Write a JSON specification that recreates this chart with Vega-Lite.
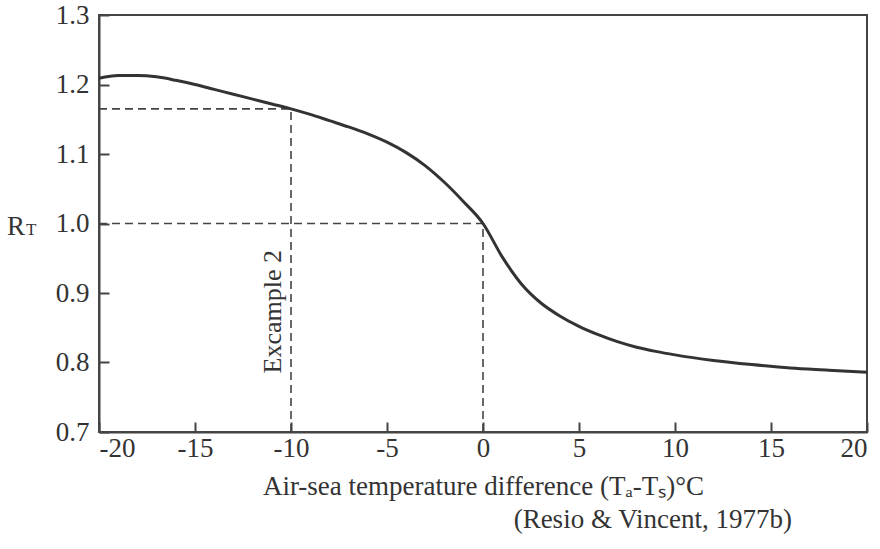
{
  "$schema": "https://vega.github.io/schema/vega-lite/v6.json",
  "autosize": "none",
  "width": 768,
  "height": 417,
  "padding": {"left": 99, "top": 15, "right": 13, "bottom": 117},
  "background": "white",
  "config": {
    "view": {"stroke": "#444", "strokeWidth": 2},
    "font": "Liberation Serif",
    "axis": {
      "labelFont": "Liberation Serif",
      "labelFontSize": 27,
      "labelColor": "#333",
      "titleFont": "Liberation Serif",
      "titleColor": "#333",
      "domainColor": "#444",
      "domainWidth": 2,
      "tickColor": "#444",
      "tickWidth": 2,
      "tickSize": -10,
      "grid": false
    }
  },
  "datasets": {
    "curve": [
      {"x": -20, "r": 1.209}, {"x": -19, "r": 1.213}, {"x": -18, "r": 1.213},
      {"x": -17, "r": 1.211}, {"x": -16, "r": 1.206}, {"x": -15, "r": 1.200},
      {"x": -14, "r": 1.193}, {"x": -13, "r": 1.186}, {"x": -12, "r": 1.179},
      {"x": -11, "r": 1.172}, {"x": -10, "r": 1.165}, {"x": -9, "r": 1.157},
      {"x": -8, "r": 1.148}, {"x": -7, "r": 1.139}, {"x": -6, "r": 1.129},
      {"x": -5, "r": 1.117}, {"x": -4, "r": 1.102}, {"x": -3, "r": 1.083},
      {"x": -2, "r": 1.059}, {"x": -1, "r": 1.031}, {"x": 0, "r": 1.0},
      {"x": 1, "r": 0.952}, {"x": 2, "r": 0.913}, {"x": 3, "r": 0.886},
      {"x": 4, "r": 0.867}, {"x": 5, "r": 0.852}, {"x": 6, "r": 0.840},
      {"x": 7, "r": 0.830}, {"x": 8, "r": 0.822}, {"x": 9, "r": 0.816},
      {"x": 10, "r": 0.811}, {"x": 12, "r": 0.803}, {"x": 14, "r": 0.797},
      {"x": 16, "r": 0.792}, {"x": 18, "r": 0.789}, {"x": 20, "r": 0.786}
    ],
    "guides": [
      {"x": -20, "x2": -10, "r": 1.165, "r2": 1.165},
      {"x": -10, "x2": -10, "r": 0.7, "r2": 1.165},
      {"x": -20, "x2": 0, "r": 1.0, "r2": 1.0},
      {"x": 0, "x2": 0, "r": 0.7, "r2": 1.0}
    ]
  },
  "layer": [
    {
      "data": {"name": "guides"},
      "mark": {"type": "rule", "strokeDash": [8, 5], "strokeWidth": 1.6, "color": "#444"},
      "encoding": {
        "x": {"field": "x", "type": "quantitative", "scale": {"domain": [-20, 20], "nice": false},
          "axis": {"values": [-20, -15, -10, -5, 0, 5, 10, 15, 20], "labelPadding": 13,
            "labelExpr": "replace(datum.label, '−', '-')",
            "title": "Air-sea temperature difference (Tₐ-Tₛ)°C", "titleFontSize": 27,
            "titleFontWeight": "normal", "titlePadding": 12}},
        "x2": {"field": "x2"},
        "y": {"field": "r", "type": "quantitative", "scale": {"domain": [0.7, 1.3], "nice": false},
          "axis": {"values": [0.7, 0.8, 0.9, 1.0, 1.1, 1.2, 1.3], "format": ".1f", "labelPadding": 20, "title": null}},
        "y2": {"field": "r2"}
      }
    },
    {
      "data": {"name": "curve"},
      "mark": {"type": "line", "interpolate": "monotone", "strokeWidth": 3, "color": "#333"},
      "encoding": {
        "x": {"field": "x", "type": "quantitative"},
        "y": {"field": "r", "type": "quantitative"}
      }
    },
    {
      "data": {"values": [{"x": -10, "r": 0.873, "label": "Excample 2"}]},
      "mark": {"type": "text", "angle": 270, "align": "center", "baseline": "alphabetic", "dy": -10,
        "font": "Liberation Serif", "fontSize": 26, "color": "#333"},
      "encoding": {
        "x": {"field": "x", "type": "quantitative"},
        "y": {"field": "r", "type": "quantitative"},
        "text": {"field": "label"}
      }
    },
    {
      "data": {"values": [{"x": -20, "r": 1.0, "label": "R"}]},
      "mark": {"type": "text", "align": "right", "baseline": "alphabetic", "dx": -74, "dy": 11,
        "font": "Liberation Serif", "fontSize": 27, "color": "#333"},
      "encoding": {
        "x": {"field": "x", "type": "quantitative"},
        "y": {"field": "r", "type": "quantitative"},
        "text": {"field": "label"}
      }
    },
    {
      "data": {"values": [{"x": -20, "r": 1.0, "label": "T"}]},
      "mark": {"type": "text", "align": "left", "baseline": "alphabetic", "dx": -73, "dy": 11,
        "font": "Liberation Serif", "fontSize": 17, "color": "#333"},
      "encoding": {
        "x": {"field": "x", "type": "quantitative"},
        "y": {"field": "r", "type": "quantitative"},
        "text": {"field": "label"}
      }
    },
    {
      "data": {"values": [{"x": 20, "r": 0.7, "label": "(Resio & Vincent, 1977b)"}]},
      "mark": {"type": "text", "align": "right", "baseline": "middle", "dx": -75, "dy": 88,
        "font": "Liberation Serif", "fontSize": 27, "color": "#333"},
      "encoding": {
        "x": {"field": "x", "type": "quantitative"},
        "y": {"field": "r", "type": "quantitative"},
        "text": {"field": "label"}
      }
    }
  ]
}
